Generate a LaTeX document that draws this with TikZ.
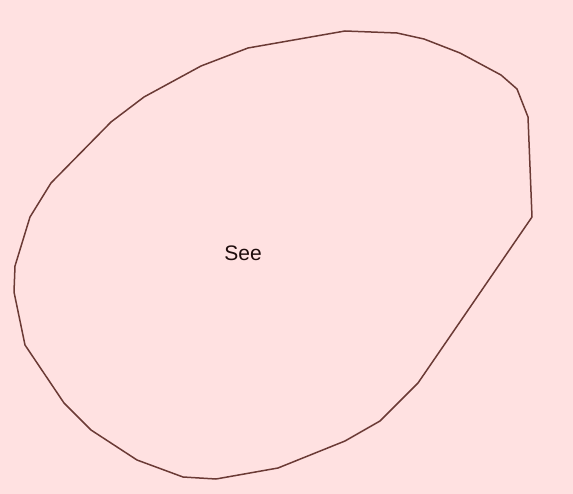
\documentclass[tikz,border=0pt]{standalone}
\usepackage{fontspec}
\setmainfont{Liberation Sans}
\definecolor{bgpink}{HTML}{FFE1E1}
\definecolor{rimbrown}{HTML}{6B3A35}
\definecolor{inkdark}{HTML}{1E0C0C}

\begin{document}
\begin{tikzpicture}[
    x=1pt, y=-1pt,
    rim/.style={rimbrown, line width=1.5pt, line join=round},
    blobtext/.style={inkdark, font=\fontsize{21}{24}\selectfont},
]

% ── Canvas ──────────────────────────────────────────────────
\fill[bgpink] (0,0) rectangle (573,494);
\useasboundingbox (0,0) rectangle (573,494);

% ── Outline ─────────────────────────────────────────────────
\draw[rim] (345,31) -- (397,33) -- (424,39) -- (460,53) -- (501,75)
    -- (517,89) -- (528,117) -- (532,217) -- (418,383) -- (380,421)
    -- (345,441) -- (278,468) -- (216,479) -- (183,477) -- (137,460)
    -- (91,430) -- (64,403) -- (25,345) -- (14,292) -- (15,266)
    -- (30,217) -- (51,183) -- (111,122) -- (144,97) -- (201,66)
    -- (248,48) -- cycle;

% ── Label ───────────────────────────────────────────────────
\node[blobtext] (see) at (243,253) {See};

\end{tikzpicture}
\end{document}
